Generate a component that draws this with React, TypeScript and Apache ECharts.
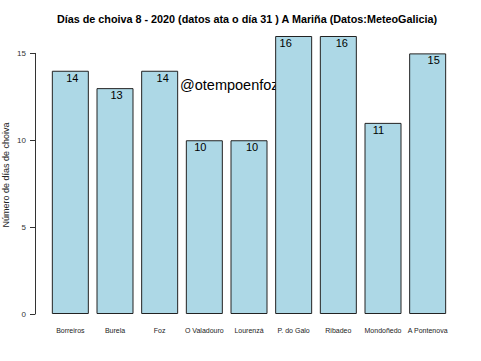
import React, { useEffect, useRef } from "react";
import * as echarts from "echarts";

const categories = ["Borreiros", "Burela", "Foz", "O Valadouro", "Lourenzá", "P. do Galo", "Ribadeo", "Mondoñedo", "A Pontenova"];
const rainDays = [14, 13, 14, 10, 10, 16, 16, 11, 15];
const titleText = "Días de choiva 8 - 2020 (datos ata o día 31 ) A Mariña (Datos:MeteoGalicia)";
const yAxisTitle = "Número de días de choiva";
const watermark = "@otempoenfoz";
// horizontal nudges of the value labels (styling, px)
const labelNudge = [2, 1.5, 3, -4, 3, -8, 3.5, -4.5, 6];

const FONT = "Liberation Sans, Arial, sans-serif";

export default function App() {
  const ref = useRef<HTMLDivElement>(null);
  useEffect(() => {
    document.body.style.margin = "0";
    if (!ref.current) return;
    const chart = echarts.init(ref.current, null, { renderer: "svg" });
    const gridTop = 36;
    const gridH = 278;
    const yMax = 16;
    const axisMax = 15;
    const g1H = (gridH * axisMax) / yMax;
    chart.setOption({
      animation: false,
      backgroundColor: "#ffffff",
      textStyle: { fontFamily: FONT },
      title: {
        text: titleText,
        left: 242,
        top: 8,
        textAlign: "center",
        textStyle: { fontSize: 10.8, fontWeight: "bold", color: "#000", fontFamily: FONT },
      },
      grid: [
        { left: 48, right: 31, top: gridTop, height: gridH, containLabel: false, outerBoundsMode: "none" },
        { left: 35, right: 31, top: gridTop + gridH - g1H, height: g1H, containLabel: false, outerBoundsMode: "none" },
      ],
      xAxis: [
        {
          type: "category",
          data: categories,
          gridIndex: 0,
          boundaryGap: true,
          axisLine: { show: false },
          axisTick: { show: false },
          axisLabel: { fontSize: 7, color: "#222", margin: 13, interval: 0, fontFamily: FONT },
        },
        { type: "value", gridIndex: 1, min: 0, max: 1, show: false },
      ],
      yAxis: [
        {
          type: "value",
          gridIndex: 0,
          min: 0,
          max: yMax,
          axisLine: { show: false },
          axisTick: { show: false },
          axisLabel: { show: false },
          splitLine: { show: false },
          name: yAxisTitle,
          nameLocation: "middle",
          nameGap: 38,
          nameTextStyle: { fontSize: 9, color: "#222", fontFamily: FONT },
        },
        {
          type: "value",
          gridIndex: 1,
          min: 0,
          max: axisMax,
          interval: 5,
          axisLine: { show: true, lineStyle: { color: "#333", width: 1 } },
          axisTick: { show: true, length: 5, lineStyle: { color: "#333" } },
          axisLabel: { fontSize: 8, color: "#333", margin: 9, fontFamily: FONT },
          splitLine: { show: false },
        },
      ],
      series: [
        {
          type: "bar",
          xAxisIndex: 0,
          yAxisIndex: 0,
          data: rainDays.map((v, i) => ({ value: v, label: { offset: [labelNudge[i], 0] } })),
          barWidth: 37,
          itemStyle: { color: "#ADD8E6", borderColor: "#222", borderWidth: 1 },
          label: {
            show: true,
            position: "insideTop",
            distance: 1.5,
            fontSize: 11,
            color: "#000",
            fontFamily: FONT,
          },
        },
      ],
      graphic: [
        {
          type: "text",
          left: 180,
          top: 77,
          style: { text: watermark, fontSize: 14.5, fill: "#000", fontFamily: FONT },
        },
      ],
    });
    return () => chart.dispose();
  }, []);
  return <div ref={ref} style={{ width: 481, height: 361 }} />;
}
